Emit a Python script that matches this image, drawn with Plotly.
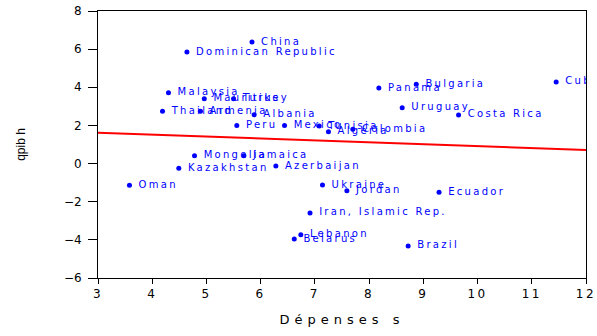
import plotly.graph_objects as go

countries = ["China", "Dominican Republic", "Malaysia", "Mauritius", "Turkey", "Thailand",
             "Armenia", "Albania", "Peru", "Mexico", "Tunisia", "Algeria", "Colombia",
             "Panama", "Bulgaria", "Uruguay", "Costa Rica", "Cuba", "Mongolia", "Jamaica",
             "Kazakhstan", "Azerbaijan", "Oman", "Ukraine", "Jordan", "Ecuador",
             "Iran, Islamic Rep.", "Lebanon", "Belarus", "Brazil"]
depenses = [5.84, 4.64, 4.30, 4.96, 5.50, 4.19, 4.89, 5.88, 5.56, 6.44, 7.08, 7.25, 7.70,
            8.18, 8.87, 8.61, 9.65, 11.45, 4.78, 5.69, 4.49, 6.28, 3.58, 7.14, 7.59, 9.29,
            6.91, 6.74, 6.62, 8.72]
qpib = [6.37, 5.85, 3.71, 3.40, 3.40, 2.74, 2.74, 2.56, 1.99, 1.99, 1.97, 1.67, 1.80,
        3.96, 4.16, 2.93, 2.55, 4.28, 0.41, 0.41, -0.25, -0.13, -1.14, -1.13, -1.42, -1.51,
        -2.59, -3.73, -3.96, -4.32]
fit_x = [3, 12]
fit_y = [1.62, 0.71]
x_ticks = [3, 4, 5, 6, 7, 8, 9, 10, 11, 12]
y_ticks = [-6, -4, -2, 0, 2, 4, 6, 8]

fig = go.Figure()
fig.add_trace(go.Scatter(x=fit_x, y=fit_y, mode="lines",
                         line=dict(color="#ff0000", width=2), hoverinfo="skip"))
fig.add_trace(go.Scatter(x=depenses, y=qpib, mode="markers+text", text=countries,
                         textposition="middle right",
                         textfont=dict(family="DejaVu Sans", size=10, color="#0000ff"),
                         marker=dict(color="#0000ff", size=5), cliponaxis=True))

axis_common = dict(showline=True, linecolor="black", linewidth=1, mirror=True,
                   showgrid=False, zeroline=False, ticks="outside", tickcolor="black",
                   tickwidth=1, automargin=False)
fig.update_xaxes(range=[3, 12], tickvals=x_ticks, ticklen=5,
                 tickfont=dict(family="DejaVu Sans", size=12, color="black"),
                 title=dict(text="Dépenses s", standoff=14,
                            font=dict(family="DejaVu Sans", size=13, color="black")),
                 **axis_common)
fig.update_yaxes(range=[-6, 8], tickvals=y_ticks, ticklen=9,
                 tickfont=dict(family="DejaVu Sans", size=12, color="black"),
                 ticklabelstandoff=4,
                 title=dict(text="qpib h", standoff=35,
                            font=dict(family="Liberation Sans", size=12, color="black")),
                 **axis_common)
fig.update_layout(width=597, height=336, margin=dict(l=98, r=11, t=11, b=58, autoexpand=False),
                  plot_bgcolor="white", paper_bgcolor="white", showlegend=False)

post = ("var s=document.createElement('style');"
        "s.textContent='.textpoint text{letter-spacing:2.3px;transform:translate(5px,0)}"
        " .xtick text{letter-spacing:2.5px} .xtitle{letter-spacing:5px}';"
        "document.head.appendChild(s);")
fig.write_html("out.html", post_script=post)
